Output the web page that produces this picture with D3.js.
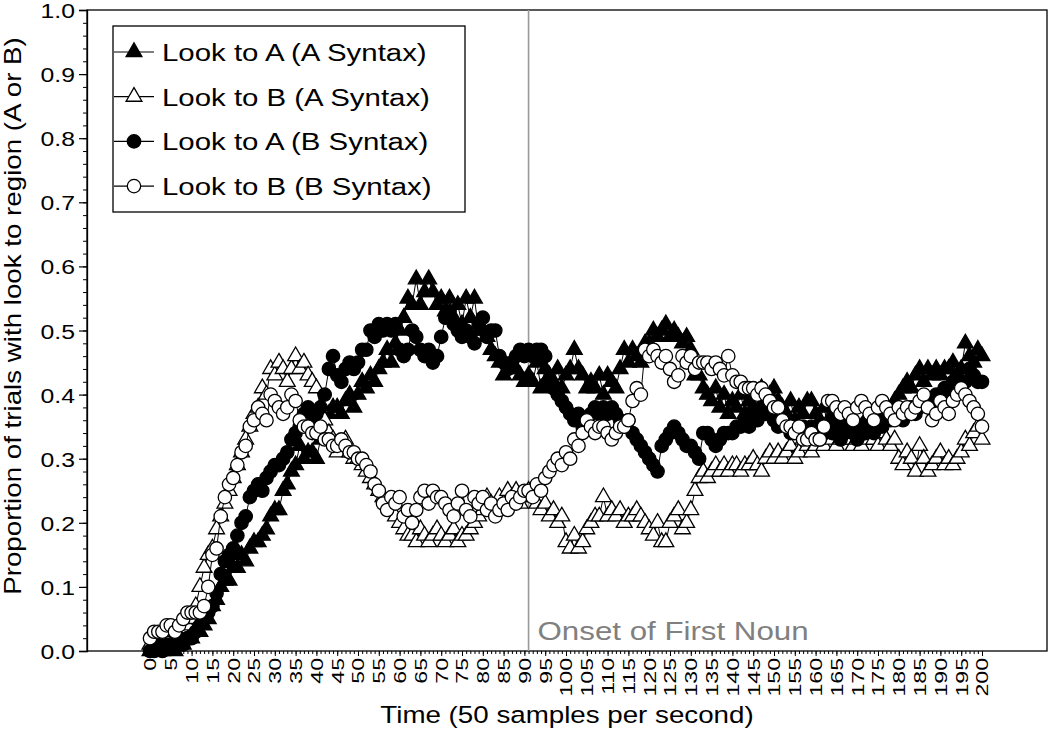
<!DOCTYPE html>
<html><head><meta charset="utf-8">
<script src="https://cdn.jsdelivr.net/npm/d3@7"></script>
<style>
body{margin:0;background:#fff}
svg{display:block}
text{font-family:"Liberation Sans",Arial,Helvetica,sans-serif;fill:#000}
</style>
</head><body><svg id="c" width="1050" height="733"></svg>
<script>
const seriesNames = ["Look to A (A Syntax)","Look to B (A Syntax)","Look to A (B Syntax)","Look to B (B Syntax)"];

const lookA_ASyntax = [
0.00,0.00,0.00,0.00,0.01,0.01,0.00,0.01,0.01,0.02,
0.02,0.03,0.03,0.04,0.05,0.07,0.08,0.10,0.11,0.11,
0.13,0.13,0.15,0.14,0.16,0.17,0.17,0.18,0.19,0.21,
0.22,0.22,0.25,0.26,0.28,0.29,0.32,0.30,0.31,0.31,
0.30,0.33,0.35,0.37,0.38,0.38,0.37,0.39,0.40,0.38,
0.40,0.42,0.41,0.43,0.42,0.44,0.45,0.47,0.45,0.48,
0.50,0.52,0.55,0.54,0.58,0.54,0.56,0.58,0.56,0.54,
0.55,0.53,0.55,0.52,0.54,0.51,0.55,0.52,0.55,0.50,
0.50,0.49,0.47,0.46,0.45,0.43,0.44,0.45,0.44,0.43,
0.42,0.43,0.42,0.45,0.41,0.44,0.43,0.42,0.44,0.41,
0.43,0.44,0.47,0.44,0.43,0.41,0.42,0.41,0.43,0.40,
0.43,0.42,0.41,0.44,0.47,0.45,0.47,0.46,0.45,0.48,
0.48,0.50,0.49,0.50,0.51,0.49,0.50,0.49,0.48,0.49,
0.47,0.43,0.43,0.41,0.40,0.39,0.41,0.38,0.40,0.37,
0.39,0.38,0.40,0.37,0.39,0.38,0.40,0.41,0.39,0.40,
0.41,0.39,0.38,0.37,0.39,0.36,0.38,0.37,0.39,0.39,
0.37,0.36,0.38,0.35,0.37,0.36,0.35,0.34,0.36,0.35,
0.34,0.35,0.36,0.33,0.35,0.36,0.37,0.38,0.37,0.39,
0.40,0.41,0.42,0.41,0.43,0.44,0.42,0.44,0.43,0.44,
0.43,0.44,0.44,0.45,0.43,0.44,0.48,0.46,0.45,0.47,
0.46];

const lookB_ASyntax = [
0.01,0.01,0.02,0.02,0.02,0.03,0.02,0.03,0.03,0.04,
0.05,0.07,0.10,0.13,0.15,0.16,0.19,0.21,0.23,0.25,
0.27,0.29,0.31,0.33,0.35,0.37,0.38,0.41,0.40,0.44,
0.43,0.45,0.44,0.42,0.44,0.46,0.44,0.45,0.43,0.42,
0.41,0.38,0.36,0.34,0.33,0.31,0.32,0.33,0.31,0.30,
0.30,0.29,0.28,0.27,0.26,0.25,0.24,0.23,0.22,0.21,
0.20,0.19,0.18,0.18,0.17,0.19,0.18,0.17,0.18,0.19,
0.18,0.17,0.18,0.19,0.17,0.18,0.18,0.19,0.20,0.21,
0.22,0.24,0.23,0.22,0.24,0.23,0.25,0.24,0.25,0.23,
0.24,0.25,0.24,0.23,0.22,0.23,0.21,0.22,0.20,0.21,
0.17,0.16,0.18,0.16,0.17,0.19,0.20,0.21,0.21,0.24,
0.21,0.22,0.21,0.22,0.20,0.21,0.21,0.22,0.21,0.20,
0.19,0.18,0.20,0.17,0.17,0.20,0.21,0.22,0.19,0.20,
0.22,0.25,0.27,0.28,0.27,0.28,0.29,0.28,0.29,0.28,
0.29,0.29,0.28,0.29,0.29,0.30,0.29,0.28,0.30,0.31,
0.30,0.31,0.30,0.31,0.32,0.30,0.31,0.33,0.32,0.31,
0.32,0.33,0.32,0.34,0.33,0.32,0.33,0.34,0.33,0.32,
0.33,0.32,0.34,0.33,0.33,0.32,0.34,0.33,0.32,0.33,
0.30,0.29,0.31,0.30,0.28,0.32,0.30,0.28,0.29,0.30,
0.31,0.29,0.30,0.29,0.30,0.31,0.33,0.32,0.34,0.35,
0.33];

const lookA_BSyntax = [
0.00,0.00,0.01,0.00,0.01,0.01,0.01,0.02,0.01,0.02,
0.02,0.03,0.04,0.05,0.06,0.07,0.09,0.12,0.14,0.15,
0.16,0.18,0.20,0.21,0.24,0.25,0.26,0.25,0.27,0.28,
0.29,0.29,0.30,0.31,0.33,0.34,0.35,0.37,0.38,0.36,
0.37,0.38,0.40,0.44,0.46,0.43,0.42,0.44,0.45,0.44,
0.45,0.47,0.47,0.50,0.49,0.51,0.50,0.51,0.50,0.51,
0.47,0.46,0.47,0.50,0.49,0.47,0.46,0.47,0.45,0.46,
0.49,0.52,0.53,0.51,0.50,0.49,0.50,0.49,0.48,0.51,
0.52,0.49,0.50,0.50,0.46,0.45,0.44,0.45,0.46,0.47,
0.46,0.47,0.46,0.47,0.47,0.46,0.42,0.41,0.40,0.39,
0.38,0.37,0.36,0.37,0.35,0.36,0.37,0.38,0.37,0.38,
0.37,0.38,0.37,0.36,0.35,0.36,0.34,0.33,0.32,0.31,
0.30,0.29,0.28,0.32,0.33,0.34,0.35,0.34,0.33,0.32,
0.32,0.31,0.30,0.34,0.34,0.33,0.32,0.33,0.34,0.34,
0.34,0.35,0.35,0.36,0.35,0.37,0.36,0.38,0.37,0.37,
0.36,0.35,0.36,0.35,0.34,0.35,0.34,0.35,0.34,0.35,
0.34,0.33,0.34,0.35,0.34,0.35,0.33,0.34,0.35,0.34,
0.33,0.34,0.34,0.35,0.34,0.35,0.35,0.36,0.36,0.37,
0.37,0.36,0.37,0.38,0.37,0.38,0.39,0.38,0.39,0.40,
0.40,0.41,0.40,0.42,0.43,0.41,0.42,0.44,0.43,0.42,
0.42];

const lookB_BSyntax = [
0.02,0.03,0.03,0.03,0.04,0.04,0.03,0.04,0.05,0.06,
0.06,0.06,0.06,0.07,0.10,0.15,0.16,0.21,0.24,0.26,
0.27,0.29,0.31,0.32,0.35,0.36,0.38,0.37,0.36,0.40,
0.39,0.38,0.37,0.38,0.40,0.39,0.36,0.35,0.35,0.34,
0.34,0.35,0.33,0.33,0.32,0.32,0.33,0.32,0.31,0.31,
0.30,0.30,0.29,0.28,0.26,0.25,0.23,0.22,0.24,0.23,
0.24,0.21,0.22,0.20,0.22,0.24,0.25,0.23,0.25,0.24,
0.24,0.23,0.22,0.21,0.23,0.25,0.22,0.21,0.24,0.23,
0.24,0.22,0.23,0.21,0.22,0.23,0.22,0.24,0.23,0.24,
0.25,0.25,0.24,0.26,0.25,0.27,0.28,0.29,0.30,0.29,
0.31,0.30,0.33,0.32,0.34,0.36,0.35,0.34,0.35,0.35,
0.34,0.33,0.34,0.35,0.35,0.36,0.39,0.41,0.40,0.47,
0.46,0.47,0.46,0.45,0.46,0.44,0.42,0.43,0.46,0.45,
0.46,0.44,0.45,0.45,0.45,0.44,0.45,0.44,0.43,0.46,
0.43,0.42,0.42,0.41,0.41,0.41,0.40,0.41,0.40,0.39,
0.38,0.38,0.36,0.35,0.35,0.34,0.35,0.33,0.33,0.34,
0.33,0.33,0.35,0.39,0.39,0.38,0.37,0.38,0.37,0.36,
0.38,0.39,0.38,0.37,0.36,0.38,0.39,0.38,0.37,0.36,
0.38,0.37,0.38,0.37,0.38,0.39,0.40,0.38,0.36,0.37,
0.39,0.38,0.37,0.39,0.40,0.41,0.40,0.39,0.38,0.37,
0.35];

const yTickLabels = [0.0,0.1,0.2,0.3,0.4,0.5,0.6,0.7,0.8,0.9,1.0];
const xTickLabels = [0,5,10,15,20,25,30,35,40,45,50,55,60,65,70,75,80,85,90,95,100,
  105,110,115,120,125,130,135,140,145,150,155,160,165,170,175,180,185,190,195,200];
const onsetTime = 91;
const onsetLabel = "Onset of First Noun";
const xTitle = "Time (50 samples per second)";
const yTitle = "Proportion of trials with look to region (A or B)";

const seriesData = [lookA_ASyntax, lookB_ASyntax, lookA_BSyntax, lookB_BSyntax];
const seriesShape = ["triangle","triangle","circle","circle"];
const seriesFill = ["#000","#fff","#000","#fff"];
const time = d3.range(0, 201);

const svg = d3.select("#c");
const F = {l:87, r:1047, t:10, b:651};
const x = d3.scaleLinear().domain([0,200]).range([150,982]);
const y = d3.scaleLinear().domain([0,1]).range([F.b, F.t]);
const STR = 1.18;

// frame
svg.append("rect").attr("x",F.l).attr("y",F.t).attr("width",F.r-F.l).attr("height",F.b-F.t)
  .attr("fill","none").attr("stroke","#000").attr("stroke-width",1.3);

// onset line
svg.append("line").attr("x1",x(onsetTime)).attr("x2",x(onsetTime)).attr("y1",F.t).attr("y2",F.b)
  .attr("stroke","#9a9a9a").attr("stroke-width",1.6);
svg.append("text").attr("transform",`translate(${x(onsetTime)+9},640) scale(${STR},1)`)
  .style("font-size","26.5px").style("fill","#808080").text(onsetLabel);

// y axis
const gy = svg.append("g").attr("transform",`translate(${F.l},0)`);
gy.call(d3.axisLeft(y).tickValues(d3.range(0,1.0001,0.02)).tickSize(4).tickFormat(""));
gy.call(g=>g.select(".domain").remove());
const gy2 = svg.append("g").attr("transform",`translate(${F.l},0)`);
gy2.call(d3.axisLeft(y).tickValues(yTickLabels).tickSize(8).tickFormat(d3.format(".1f")));
gy2.selectAll(".domain").attr("stroke-width",1.3);
gy2.selectAll(".tick line").attr("stroke-width",1.2);
gy2.selectAll(".tick text").attr("x",0).attr("dy","0.36em")
  .attr("transform",`translate(-12,0) scale(${STR},1)`)
  .style("font-size","21px").attr("font-family",null);

// x axis
const gx = svg.append("g").attr("transform",`translate(0,${F.b})`);
gx.call(d3.axisBottom(x).tickValues(time).tickSize(3).tickFormat(""));
gx.call(g=>g.select(".domain").remove());
const gx2 = svg.append("g").attr("transform",`translate(0,${F.b})`);
gx2.call(d3.axisBottom(x).tickValues(xTickLabels).tickSize(5));
gx2.select(".domain").remove();
gx2.selectAll(".tick text").attr("x",0).attr("y",0).attr("dy","0.36em")
  .attr("text-anchor","end")
  .attr("transform",`translate(0,7) rotate(-90) scale(1.4,1)`)
  .style("font-size","16.5px").attr("font-family",null);

// titles
svg.append("text").attr("text-anchor","middle")
  .attr("transform",`translate(567,723) scale(${STR},1)`)
  .style("font-size","23.5px").text(xTitle);
svg.append("text").attr("text-anchor","middle")
  .attr("transform",`translate(21,316) rotate(-90) scale(${STR},1)`)
  .style("font-size","23.5px").text(yTitle);

// series
const line = d3.line().x((d,i)=>x(time[i])).y(d=>y(d));
const tri = d3.symbol().type(d3.symbolTriangle).size(108);
function drawMarker(g, shape, fill){
  if(shape==="circle"){
    return g.append("circle").attr("r",6.7).attr("fill",fill).attr("stroke","#000").attr("stroke-width",1.3);
  }
  return g.append("path").attr("d",tri()).attr("fill",fill).attr("stroke","#000").attr("stroke-width",1.3);
}
seriesData.forEach((vals,si)=>{
  const g = svg.append("g");
  g.append("path").datum(vals).attr("d",line).attr("fill","none").attr("stroke","#000").attr("stroke-width",1);
  vals.forEach((v,i)=>{
    const m = g.append("g").attr("transform",`translate(${x(time[i])},${y(v)})`);
    drawMarker(m, seriesShape[si], seriesFill[si]);
  });
});

// legend
const lg = svg.append("g");
lg.append("rect").attr("x",113).attr("y",26).attr("width",352).attr("height",186)
  .attr("fill","#fff").attr("stroke","#000").attr("stroke-width",1.3);
seriesNames.forEach((name,i)=>{
  const ly = 52 + i*44.7;
  lg.append("line").attr("x1",114).attr("x2",154).attr("y1",ly).attr("y2",ly).attr("stroke","#000").attr("stroke-width",1.2);
  const m = lg.append("g").attr("transform",`translate(134,${ly})`);
  drawMarker(m, seriesShape[i], seriesFill[i]);
  lg.append("text").attr("transform",`translate(162,${ly}) scale(1.2,1)`).attr("dy","0.36em")
    .style("font-size","24.5px").text(name);
});
</script>
</body></html>
